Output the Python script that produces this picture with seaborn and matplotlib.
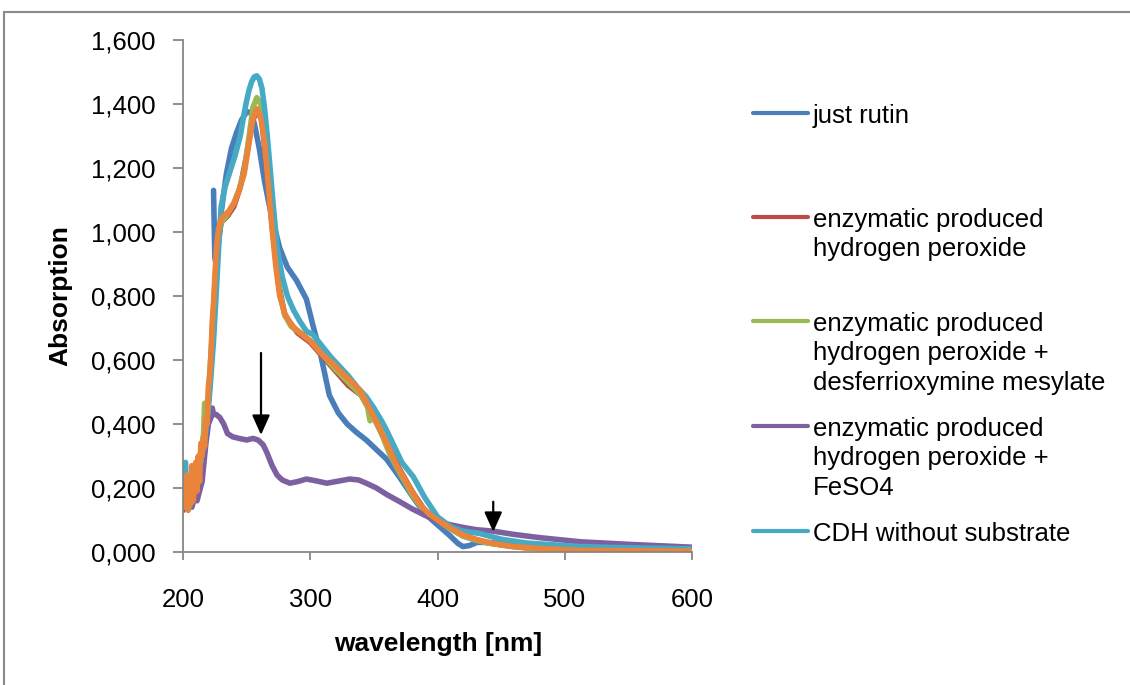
import pandas as pd
import numpy as np
import matplotlib.pyplot as plt
import seaborn as sns
from matplotlib.lines import Line2D

# spectra: wavelength [nm] -> absorption
wl_rutin = [224, 225, 226, 228, 230, 234, 238, 242, 246, 250,
            253, 256, 260, 264, 268, 271, 276, 282, 289, 297,
            302, 308, 315, 322, 329, 336, 344, 352, 360, 370,
            381, 390, 400, 410, 416, 420, 425, 431, 440, 460,
            500, 550, 600]
abs_rutin = [1.13, 0.92, 0.90, 0.97, 1.06, 1.18, 1.26, 1.31, 1.35, 1.375,
             1.375, 1.34, 1.26, 1.16, 1.08, 1.03, 0.95, 0.89, 0.85, 0.79,
             0.71, 0.62, 0.49, 0.435, 0.40, 0.375, 0.35, 0.32, 0.29, 0.235,
             0.17, 0.12, 0.085, 0.05, 0.027, 0.017, 0.02, 0.03, 0.03, 0.022,
             0.013, 0.008, 0.006]

wl_h2o2 = [200, 203, 206, 209, 212, 215, 218, 221, 224, 227,
           230, 235, 240, 245, 250, 254, 258, 262, 266, 270,
           275, 280, 290, 300, 310, 320, 330, 340, 350, 360,
           370, 380, 390, 400, 420, 440, 470, 520, 600]
abs_h2o2 = [0.15, 0.20, 0.16, 0.22, 0.21, 0.30, 0.38, 0.52, 0.74, 0.95,
            1.03, 1.05, 1.08, 1.14, 1.24, 1.34, 1.38, 1.35, 1.19, 1.02,
            0.84, 0.74, 0.685, 0.655, 0.61, 0.565, 0.52, 0.49, 0.42, 0.34,
            0.26, 0.19, 0.13, 0.10, 0.05, 0.028, 0.013, 0.005, 0.003]

wl_dfo = [200, 202, 204, 206, 208, 210, 212, 214, 216, 217,
          218, 220, 222, 224, 226, 228, 230, 234, 240, 244,
          248, 252, 255, 258, 261, 264, 267, 270, 273, 276,
          280, 285, 292, 300, 310, 320, 330, 340, 345, 347,
          350, 356, 362, 370, 380, 390, 400, 410, 420, 430,
          440, 460, 480, 512, 550, 600]
abs_dfo = [0.13, 0.20, 0.15, 0.22, 0.17, 0.24, 0.20, 0.30, 0.36, 0.465,
           0.40, 0.50, 0.62, 0.76, 0.90, 0.99, 1.03, 1.05, 1.09, 1.13,
           1.19, 1.30, 1.39, 1.42, 1.40, 1.31, 1.18, 1.05, 0.91, 0.81,
           0.74, 0.705, 0.685, 0.66, 0.615, 0.57, 0.53, 0.49, 0.455, 0.41,
           0.42, 0.37, 0.31, 0.25, 0.18, 0.125, 0.10, 0.072, 0.05, 0.037,
           0.028, 0.016, 0.01, 0.005, 0.004, 0.003]

wl_feso4 = [200, 202, 203, 205, 207, 209, 211, 213, 215, 216,
            218, 220, 222, 223, 224, 226, 229, 232, 235, 239,
            244, 250, 255, 259, 263, 266, 270, 274, 278, 284,
            290, 297, 305, 313, 320, 331, 338, 344, 352, 360,
            370, 380, 390, 400, 410, 420, 430, 444, 460, 480,
            512, 550, 600]
abs_feso4 = [0.13, 0.16, 0.14, 0.15, 0.14, 0.17, 0.16, 0.19, 0.22, 0.26,
             0.34, 0.40, 0.42, 0.45, 0.43, 0.43, 0.42, 0.40, 0.37, 0.36,
             0.355, 0.35, 0.355, 0.35, 0.335, 0.31, 0.27, 0.24, 0.225, 0.215,
             0.22, 0.228, 0.222, 0.215, 0.22, 0.228, 0.225, 0.215, 0.20, 0.18,
             0.158, 0.135, 0.115, 0.097, 0.085, 0.077, 0.07, 0.065, 0.055, 0.045,
             0.032, 0.024, 0.015]

wl_cdh = [200, 201, 202, 203, 204, 205, 206, 207, 208, 209,
          210, 211, 212, 213, 214, 215, 216, 218, 220, 222,
          224, 226, 228, 230, 233, 237, 241, 245, 248, 250,
          252, 254, 256, 258, 260, 262, 264, 266, 268, 271,
          274, 278, 282, 287, 292, 297, 302, 310, 316, 323,
          330, 337, 344, 350, 356, 360, 366, 372, 381, 390,
          400, 410, 420, 433, 450, 470, 512, 550, 600]
abs_cdh = [0.14, 0.27, 0.28, 0.15, 0.22, 0.14, 0.18, 0.25, 0.17, 0.21,
           0.19, 0.26, 0.22, 0.30, 0.28, 0.33, 0.32, 0.38, 0.45, 0.55,
           0.66, 0.80, 0.95, 1.08, 1.14, 1.19, 1.24, 1.30, 1.37, 1.41,
           1.445, 1.47, 1.485, 1.488, 1.478, 1.45, 1.39, 1.31, 1.22, 1.08,
           0.95, 0.86, 0.80, 0.755, 0.72, 0.69, 0.68, 0.64, 0.61, 0.58,
           0.55, 0.515, 0.485, 0.45, 0.41, 0.38, 0.33, 0.28, 0.235, 0.17,
           0.11, 0.08, 0.065, 0.058, 0.04, 0.028, 0.017, 0.013, 0.01]

# sixth trace (orange) drawn on top, not listed in the legend
wl_extra = [200, 201, 202, 203, 204, 205, 206, 207, 208, 209,
            210, 211, 212, 213, 214, 215, 216, 217, 218, 219,
            220, 221, 222, 223, 224, 225, 226, 227, 228, 230,
            232, 236, 240, 244, 248, 252, 255, 258, 261, 264,
            267, 270, 273, 276, 280, 285, 292, 300, 310, 316,
            325, 333, 340, 347, 353, 360, 368, 376, 386, 393,
            400, 410, 420, 430, 440, 450, 460, 480, 512, 550, 600]
abs_extra = [0.17, 0.21, 0.14, 0.24, 0.13, 0.22, 0.15, 0.27, 0.16, 0.20,
             0.28, 0.19, 0.30, 0.22, 0.34, 0.30, 0.36, 0.33, 0.42, 0.40,
             0.52, 0.55, 0.62, 0.72, 0.78, 0.86, 0.93, 0.98, 1.01, 1.04,
             1.05, 1.065, 1.09, 1.13, 1.18, 1.28, 1.355, 1.385, 1.36, 1.28,
             1.15, 1.01, 0.89, 0.80, 0.745, 0.71, 0.685, 0.66, 0.615, 0.595,
             0.56, 0.53, 0.50, 0.445, 0.40, 0.34, 0.27, 0.215, 0.15, 0.12,
             0.10, 0.075, 0.053, 0.04, 0.03, 0.022, 0.017, 0.011, 0.005, 0.004, 0.003]

series_names = ['just rutin', 'enzymatic produced\nhydrogen peroxide',
                'enzymatic produced\nhydrogen peroxide +\ndesferrioxymine mesylate',
                'enzymatic produced\nhydrogen peroxide +\nFeSO4',
                'CDH without substrate', 'extra']
series_colors = ['#4A7EBB', '#BE4B48', '#98B954', '#7D60A0', '#46AAC5', '#E9843A']

xtick_vals = [200, 300, 400, 500, 600]
ytick_vals = [0.0, 0.2, 0.4, 0.6, 0.8, 1.0, 1.2, 1.4, 1.6]
ytick_labels = ['0,000', '0,200', '0,400', '0,600', '0,800',
                '1,000', '1,200', '1,400', '1,600']

# arrows (wavelength, from, to)
arrow_x = [261.3, 443.8]
arrow_top = [0.622, 0.157]
arrow_tip = [0.366, 0.063]

sns.set_style('white')
plt.rcParams['font.family'] = ['Liberation Sans', 'DejaVu Sans']
plt.rcParams['text.color'] = 'black'
plt.rcParams['axes.labelcolor'] = 'black'
plt.rcParams['xtick.color'] = 'black'
plt.rcParams['ytick.color'] = 'black'

all_wl = [wl_rutin, wl_h2o2, wl_dfo, wl_feso4, wl_cdh, wl_extra]
all_abs = [abs_rutin, abs_h2o2, abs_dfo, abs_feso4, abs_cdh, abs_extra]
df = pd.concat([pd.DataFrame({'wavelength': w, 'absorption': a, 'series': n})
                for w, a, n in zip(all_wl, all_abs, series_names)], ignore_index=True)

W, H = 1130, 685
fig = plt.figure(figsize=(W / 100, H / 100), dpi=100)
ax = fig.add_axes([183 / W, 1 - 552 / H, 509 / W, 512 / H])

sns.lineplot(data=df, x='wavelength', y='absorption', hue='series',
             hue_order=series_names, palette=dict(zip(series_names, series_colors)),
             estimator=None, sort=False, lw=4.0, legend=False, ax=ax)
for ln in ax.lines:
    ln.set_solid_capstyle('round')
    ln.set_solid_joinstyle('round')

for x, y0, y1 in zip(arrow_x, arrow_top, arrow_tip):
    ax.annotate('', xy=(x, y1), xytext=(x, y0),
                arrowprops=dict(arrowstyle='-|>,head_length=0.6,head_width=0.27',
                                mutation_scale=20, color='black', lw=1.6,
                                shrinkA=0, shrinkB=0))

ax.set_xlim(200, 600)
ax.set_ylim(0, 1.6)
ax.set_xticks(xtick_vals)
ax.set_yticks(ytick_vals)
ax.set_yticklabels(ytick_labels)
sns.despine(ax=ax)
for side in ['left', 'bottom']:
    ax.spines[side].set_color('#868686')
    ax.spines[side].set_linewidth(1.3)
ax.tick_params(axis='y', direction='out', length=7, width=1.3, color='#868686',
               labelcolor='black', pad=13, labelsize=18.5, left=True)
ax.tick_params(axis='x', direction='out', length=6, width=1.3, color='#868686',
               labelcolor='black', pad=20, labelsize=18.5, bottom=True)

ax.set_xlabel('wavelength [nm]', fontsize=19, fontweight='bold', va='center')
ax.xaxis.set_label_coords(0.501, -0.18)
ax.set_ylabel('Absorption', fontsize=19, fontweight='bold', va='center')
ax.yaxis.set_label_coords(-0.2417, 0.5)

# legend drawn by hand: each entry's first line sits next to its handle
handle_y = [112.7, 216.7, 321, 426, 530.7]
for name, col, hy in zip(series_names[:5], series_colors[:5], handle_y):
    fig.add_artist(Line2D([753 / W, 808 / W], [1 - hy / H] * 2, color=col, lw=3,
                          solid_capstyle='round', transform=fig.transFigure))
    fig.text(813 / W, 1 - (hy - 9) / H, name, fontsize=18.5, va='top', ha='left',
             linespacing=1.28, color='black')

# outer chart frame (cut off at right and bottom)
fig.add_artist(Line2D([4 / W, 1.0], [1 - 12 / H] * 2, color='#8a8a8a', lw=1.5,
                      transform=fig.transFigure))
fig.add_artist(Line2D([4 / W] * 2, [0, 1 - 12 / H], color='#8a8a8a', lw=1.5,
                      transform=fig.transFigure))

fig.savefig('out.png', dpi=100)
